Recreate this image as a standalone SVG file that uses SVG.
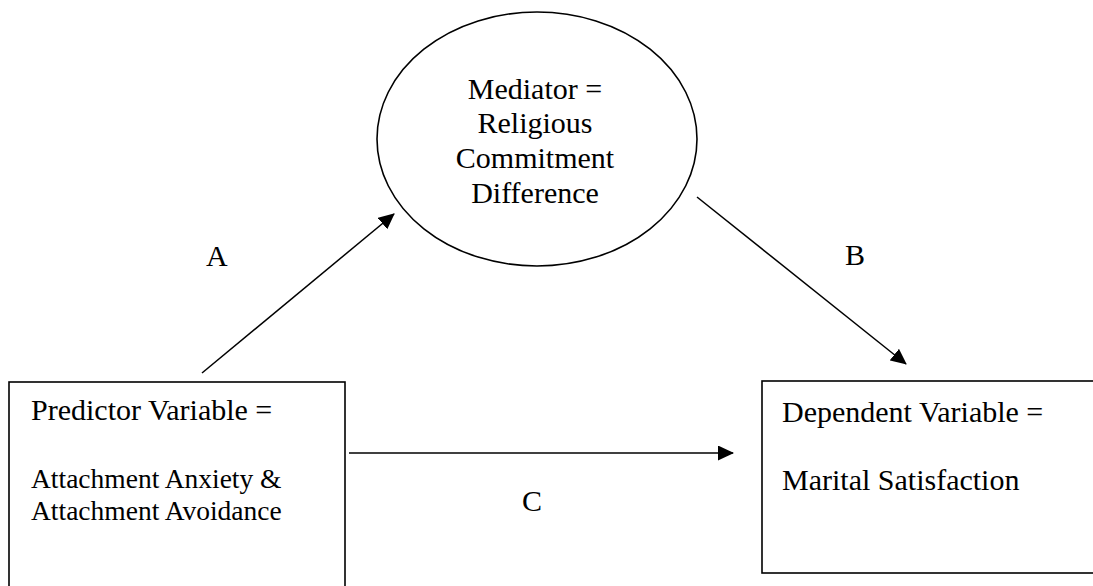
<svg xmlns="http://www.w3.org/2000/svg" width="1093" height="586" viewBox="0 0 1093 586">
<defs>
<marker id="ah" markerWidth="16" markerHeight="15" refX="15" refY="7.5" orient="auto" markerUnits="userSpaceOnUse">
<path d="M0,0 L16,7.5 L0,15 Z" fill="#000"/>
</marker>
</defs>
<rect width="1093" height="586" fill="#fff"/>
<g id="mediator" font-family="Liberation Serif" font-size="30" fill="#000">
<ellipse cx="537" cy="139" rx="160" ry="127" fill="#fff" stroke="#000" stroke-width="1.6"/>
<text x="535" y="99" text-anchor="middle">Mediator =</text>
<text x="535" y="133" text-anchor="middle">Religious</text>
<text x="535" y="168" text-anchor="middle">Commitment</text>
<text x="535" y="203" text-anchor="middle">Difference</text>
</g>
<g id="predictor" font-family="Liberation Serif" font-size="30" fill="#000">
<rect x="9" y="382" width="336" height="220" fill="#fff" stroke="#000" stroke-width="1.6"/>
<text x="31" y="420">Predictor Variable =</text>
<text x="31" y="488" font-size="27.5">Attachment Anxiety &amp;</text>
<text x="31" y="520" font-size="27.5">Attachment Avoidance</text>
</g>
<g id="dependent" font-family="Liberation Serif" font-size="30" fill="#000">
<rect x="762" y="381" width="345" height="192" fill="#fff" stroke="#000" stroke-width="1.6"/>
<text x="782" y="422">Dependent Variable =</text>
<text x="782" y="490">Marital Satisfaction</text>
</g>
<g id="connectors" stroke="#000" stroke-width="1.5" fill="none">
<line x1="202" y1="373" x2="394" y2="214" marker-end="url(#ah)"/>
<line x1="697" y1="197" x2="906" y2="364" marker-end="url(#ah)"/>
<line x1="349" y1="453" x2="733" y2="453" marker-end="url(#ah)"/>
</g>
<g id="labels" font-family="Liberation Serif" font-size="30" fill="#000">
<text x="206" y="266">A</text>
<text x="845" y="265">B</text>
<text x="522" y="511">C</text>
</g>
</svg>
